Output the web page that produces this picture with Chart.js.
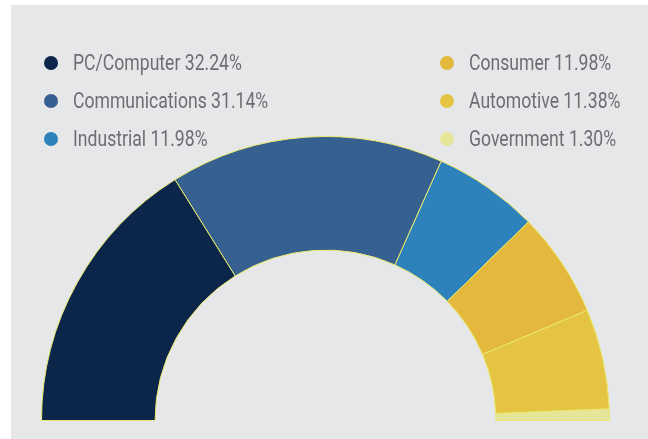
<!DOCTYPE html>
<html>
<head>
<meta charset="utf-8">
<script src="https://cdn.jsdelivr.net/npm/chart.js@4"></script>
<style>
  html, body { margin: 0; padding: 0; background: #ffffff; overflow: hidden; }
  #panel {
    position: absolute; left: 11px; top: 5px; width: 637px; height: 440px;
    background: #e6e7e8;
  }
  #wrap { position: absolute; left: 0; top: 0; width: 648px; height: 439px; }
  .item { position: absolute; height: 24px; line-height: 24px; white-space: nowrap; }
  .dot {
    display: inline-block; width: 14px; height: 14px; border-radius: 50%;
    vertical-align: middle; position: relative; top: -1px;
  }
  .txt {
    position: absolute; left: 29px; top: 0;
    font-family: Roboto, sans-serif; font-size: 22px; color: #6d6e71;
    transform: scaleX(0.8); transform-origin: 0 50%;
  }
</style>
</head>
<body>
<div id="panel"></div>
<div id="wrap"><canvas id="chart" width="648" height="439"></canvas></div>
<div id="legend"></div>
<script>
// market share by segment
const segments = ['PC/Computer', 'Communications', 'Industrial', 'Consumer', 'Automotive', 'Government'];
const shares = [32.24, 31.14, 11.98, 11.98, 11.38, 1.30];
const colors = ['#0c254b', '#36608f', '#2e82bc', '#e3b83c', '#e5c444', '#e6e59a'];

// legend: two columns of three
const legend = document.getElementById('legend');
segments.forEach((name, i) => {
  const col = Math.floor(i / 3);
  const row = i % 3;
  const el = document.createElement('div');
  el.className = 'item';
  el.style.left = (col === 0 ? 44 : 440) + 'px';
  el.style.top = (51 + row * 38) + 'px';
  el.innerHTML = '<span class="dot" style="background:' + colors[i] + '"></span>' +
    '<span class="txt">' + name + ' ' + shares[i].toFixed(2) + '%</span>';
  legend.appendChild(el);
});

new Chart(document.getElementById('chart'), {
  type: 'doughnut',
  data: {
    labels: segments,
    datasets: [{
      data: shares,
      backgroundColor: colors,
      borderColor: '#e8e86a',
      borderWidth: 1,
    }],
  },
  options: {
    responsive: false,
    animation: false,
    rotation: -90,
    circumference: 180,
    cutout: '60%',
    layout: { padding: { left: 40, right: 37, top: 136, bottom: 18 } },
    plugins: {
      legend: { display: false },
      tooltip: { enabled: false },
    },
  },
});
</script>
</body>
</html>
